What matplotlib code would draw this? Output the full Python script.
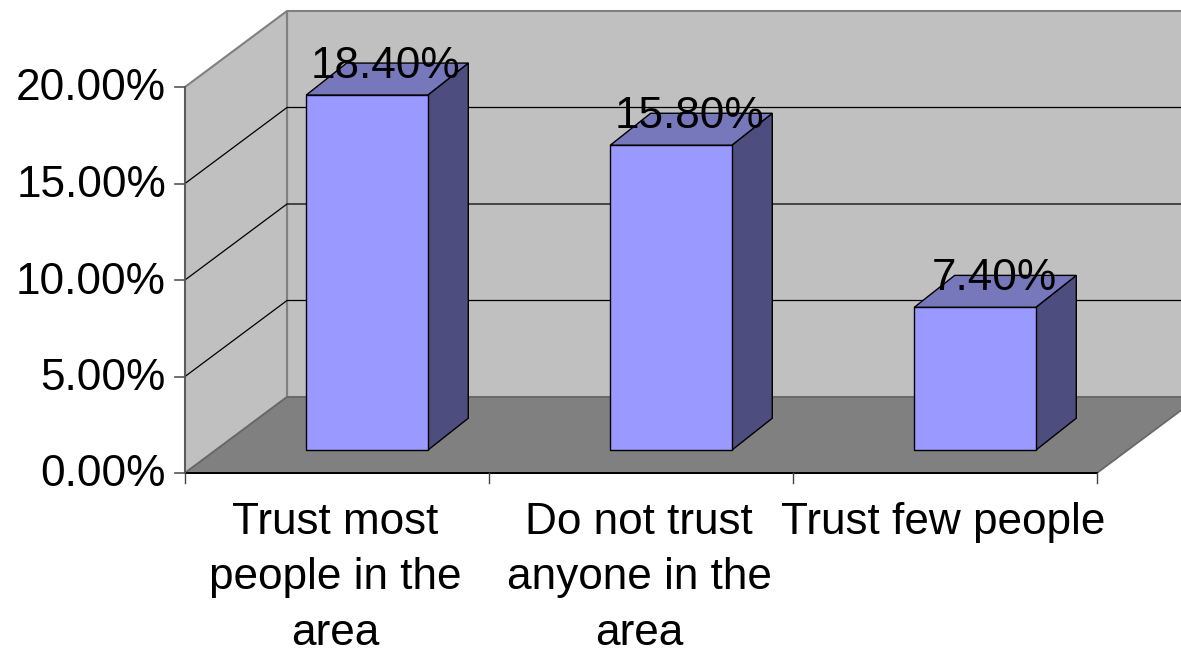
#!/usr/bin/env python3
"""Fake-3D column chart of trust levels, drawn with a small oblique projection."""

import matplotlib
matplotlib.use("Agg")
import matplotlib.pyplot as plt
from matplotlib.patches import Polygon

categories = ["Trust most\npeople in the\narea", "Do not trust\nanyone in the\narea", "Trust few people"]
values = [18.4, 15.8, 7.4]
value_labels = ["18.40%", "15.80%", "7.40%"]
y_ticks = [0, 5, 10, 15, 20]
y_tick_labels = ["0.00%", "5.00%", "10.00%", "15.00%", "20.00%"]

# projection, in figure pixels
X0, Y0 = 185.0, 473.0
CAT_W = 304.0
VAL_H = 19.3
DEPTH_X, DEPTH_Y = 102.0, 76.0
FONT = 31.8


def project(cat, val, depth=0.0):
    return (X0 + cat * CAT_W + depth * DEPTH_X, Y0 - val * VAL_H - depth * DEPTH_Y)


def face(ax, pts, color, edge="black", lw=1.0, z=1):
    ax.add_patch(Polygon(pts, closed=True, facecolor=color, edgecolor=edge, linewidth=lw, zorder=z))


def main():
    plt.rcParams["font.family"] = ["Liberation Sans", "DejaVu Sans"]
    fig = plt.figure(figsize=(11.81, 6.54), dpi=100)
    ax = fig.add_axes([0, 0, 1, 1])
    ax.set_xlim(0, 1181)
    ax.set_ylim(654, 0)
    ax.axis("off")

    n = len(categories)
    top = y_ticks[-1]

    # walls and floor
    face(ax, [project(0, 0, 1), project(n, 0, 1), project(n, top, 1), project(0, top, 1)], "#C0C0C0", "#808080", 1.5)
    face(ax, [project(0, 0), project(0, 0, 1), project(0, top, 1), project(0, top)], "#C0C0C0", "#808080", 1.5)
    face(ax, [project(0, 0), project(n, 0), project(n, 0, 1), project(0, 0, 1)], "#808080", "#666666", 1.2, z=2)

    # gridlines on both walls
    for t in y_ticks[1:-1]:
        pts = [project(0, t), project(0, t, 1), project(n, t, 1)]
        ax.plot(*zip(*pts), color="black", lw=0.9, zorder=1.5)

    # axes and ticks
    ax.plot(*zip(project(0, 0), project(n, 0)), color="black", lw=1.4, zorder=3)
    ax.plot(*zip(project(0, 0), project(0, top)), color="#555555", lw=1.2, zorder=3)
    for t, label in zip(y_ticks, y_tick_labels):
        x, y = project(0, t)
        ax.plot([x - 10, x], [y, y], color="#555555", lw=1.2, zorder=3)
        ax.text(x - 19, y + 2, label, ha="right", va="center", fontsize=FONT, color="black")
    for i in range(n + 1):
        x, y = project(i, 0)
        ax.plot([x, x], [y, y + 10], color="#444444", lw=1.0, zorder=3)

    # bars: front sits 30% into the floor, side faces have a fixed offset
    for i, (v, label) in enumerate(zip(values, value_labels)):
        fl = project(i + 0.298, 0, 0.3)
        fr = project(i + 0.698, 0, 0.3)
        tl = project(i + 0.298, v, 0.3)
        tr = project(i + 0.698, v, 0.3)
        dx, dy = 40.5, -32.0
        shift = lambda p: (p[0] + dx, p[1] + dy)
        face(ax, [fr, shift(fr), shift(tr), tr], "#4D4D7F", z=4)
        face(ax, [tl, tr, shift(tr), shift(tl)], "#7777BB", z=4)
        face(ax, [fl, fr, tr, tl], "#9999FF", z=4)
        ax.text((tl[0] + tr[0]) / 2 + 19, tl[1] - 29, label, ha="center", va="center",
                fontsize=FONT, color="black", zorder=5)

    # category labels
    for i, label in enumerate(categories):
        x, y = project(i + 0.5, 0)
        ax.text(x - 2, y + 29, label, ha="center", va="top", fontsize=FONT,
                color="black", linespacing=1.45, zorder=5)

    fig.savefig("out.png", dpi=100)
    plt.close(fig)


if __name__ == "__main__":
    main()
